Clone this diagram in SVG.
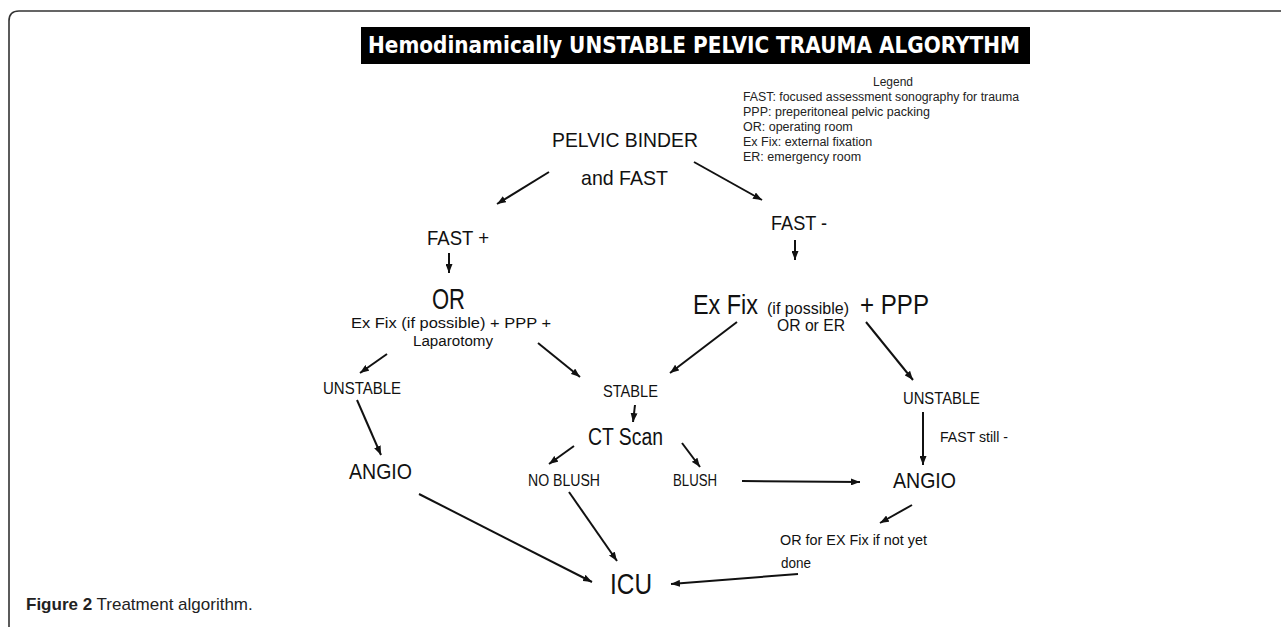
<svg xmlns="http://www.w3.org/2000/svg" width="1281" height="627" viewBox="0 0 1281 627">
<style>
.t{font-family:"Liberation Sans",Arial,sans-serif;fill:#111}
.lg{font-family:"Liberation Sans",Arial,sans-serif;fill:#222;font-size:12.5px}
.c{stroke:#111;stroke-width:2;fill:none;marker-end:url(#ah)}
</style>
<defs>
<marker id="ah" markerUnits="userSpaceOnUse" markerWidth="9" markerHeight="7" refX="9" refY="3.5" orient="auto">
<path d="M0,0 L9,3.5 L0,7 z" fill="#111"/>
</marker>
</defs>
<rect width="1281" height="627" fill="#fff"/>
<path d="M9,627 V21 Q9,11 19,11 H1281" fill="none" stroke="#333" stroke-width="1.6"/>
<g id="title">
<rect x="361" y="27" width="669" height="37" fill="#000"/>
<text x="368" y="53" font-family="'DejaVu Sans',sans-serif" font-weight="bold" font-size="23" fill="#fff" textLength="652" lengthAdjust="spacingAndGlyphs">Hemodinamically UNSTABLE PELVIC TRAUMA ALGORYTHM</text>
</g>
<g id="legend">
<text class="lg" x="873" y="86" textLength="40" lengthAdjust="spacingAndGlyphs">Legend</text>
<text class="lg" x="743" y="101" textLength="276" lengthAdjust="spacingAndGlyphs">FAST: focused assessment  sonography for trauma</text>
<text class="lg" x="743" y="116">PPP: preperitoneal pelvic packing</text>
<text class="lg" x="743" y="131">OR: operating room</text>
<text class="lg" x="743" y="146">Ex Fix: external fixation</text>
<text class="lg" x="743" y="161">ER: emergency room</text>
</g>
<g id="connectors">
<line class="c" x1="549" y1="172" x2="497" y2="204"/>
<line class="c" x1="694" y1="162" x2="762" y2="200"/>
<line class="c" x1="449" y1="253" x2="449" y2="273"/>
<line class="c" x1="795" y1="240" x2="795" y2="260"/>
<line class="c" x1="387" y1="354" x2="360" y2="373"/>
<line class="c" x1="538" y1="343" x2="580" y2="377"/>
<line class="c" x1="737" y1="322" x2="670" y2="373"/>
<line class="c" x1="866" y1="322" x2="913" y2="380"/>
<line class="c" x1="357" y1="400" x2="381" y2="455"/>
<line class="c" x1="635" y1="405" x2="633" y2="422"/>
<line class="c" x1="574" y1="446" x2="549" y2="464"/>
<line class="c" x1="682" y1="443" x2="700" y2="467"/>
<line class="c" x1="742" y1="481" x2="860" y2="482"/>
<line class="c" x1="923" y1="412" x2="923" y2="465"/>
<line class="c" x1="912" y1="505" x2="880" y2="523"/>
<line class="c" x1="419" y1="494" x2="592" y2="582"/>
<line class="c" x1="569" y1="492" x2="617" y2="561"/>
<line class="c" x1="798" y1="574" x2="671" y2="584"/>
</g>
<g id="n-pelvic"><text class="t" x="552" y="147" font-size="21" textLength="146" lengthAdjust="spacingAndGlyphs">PELVIC BINDER</text>
<text class="t" x="581" y="185" font-size="21" textLength="87" lengthAdjust="spacingAndGlyphs">and FAST</text></g>
<g id="n-fastpos"><text class="t" x="427" y="245" font-size="21" textLength="62" lengthAdjust="spacingAndGlyphs">FAST +</text></g>
<g id="n-fastneg"><text class="t" x="771" y="230" font-size="21" textLength="56" lengthAdjust="spacingAndGlyphs">FAST -</text></g>
<g id="n-or"><text class="t" x="432" y="309" font-size="29" textLength="33" lengthAdjust="spacingAndGlyphs">OR</text>
<text class="t" x="351" y="328" font-size="15.5" textLength="200" lengthAdjust="spacingAndGlyphs">Ex Fix (if possible) + PPP +</text>
<text class="t" x="413" y="346" font-size="15.5" textLength="80" lengthAdjust="spacingAndGlyphs">Laparotomy</text></g>
<g id="n-exfix"><text class="t" x="693" y="314" font-size="28" textLength="65" lengthAdjust="spacingAndGlyphs">Ex Fix</text>
<text class="t" x="767" y="314" font-size="17" textLength="82" lengthAdjust="spacingAndGlyphs">(if possible)</text>
<text class="t" x="860" y="314" font-size="28" textLength="69" lengthAdjust="spacingAndGlyphs">+ PPP</text>
<text class="t" x="777" y="331" font-size="17" textLength="68" lengthAdjust="spacingAndGlyphs">OR or ER</text></g>
<g id="n-unstable-l"><text class="t" x="323" y="394" font-size="17" textLength="78" lengthAdjust="spacingAndGlyphs">UNSTABLE</text></g>
<g id="n-stable"><text class="t" x="603" y="397" font-size="17" textLength="55" lengthAdjust="spacingAndGlyphs">STABLE</text></g>
<g id="n-ct"><text class="t" x="588" y="445" font-size="23" textLength="75" lengthAdjust="spacingAndGlyphs">CT Scan</text></g>
<g id="n-noblush"><text class="t" x="528" y="486" font-size="16" textLength="72" lengthAdjust="spacingAndGlyphs">NO BLUSH</text></g>
<g id="n-blush"><text class="t" x="673" y="486" font-size="16" textLength="44" lengthAdjust="spacingAndGlyphs">BLUSH</text></g>
<g id="n-angio-l"><text class="t" x="349" y="479" font-size="22" textLength="63" lengthAdjust="spacingAndGlyphs">ANGIO</text></g>
<g id="n-unstable-r"><text class="t" x="903" y="404" font-size="17" textLength="77" lengthAdjust="spacingAndGlyphs">UNSTABLE</text>
<text class="t" x="940" y="442" font-size="15" textLength="68" lengthAdjust="spacingAndGlyphs">FAST still -</text></g>
<g id="n-angio-r"><text class="t" x="893" y="488" font-size="22" textLength="63" lengthAdjust="spacingAndGlyphs">ANGIO</text></g>
<g id="n-orfor"><text class="t" x="780" y="545" font-size="15" textLength="147" lengthAdjust="spacingAndGlyphs">OR for EX Fix if not yet</text>
<text class="t" x="781" y="568" font-size="15" textLength="30" lengthAdjust="spacingAndGlyphs">done</text></g>
<g id="n-icu"><text class="t" x="610" y="594" font-size="29" textLength="42" lengthAdjust="spacingAndGlyphs">ICU</text></g>
<g id="caption"><text x="26" y="610" font-family="'Liberation Sans',Arial,sans-serif" font-size="17" fill="#222"><tspan font-weight="bold">Figure 2</tspan> Treatment algorithm.</text></g>
</svg>
